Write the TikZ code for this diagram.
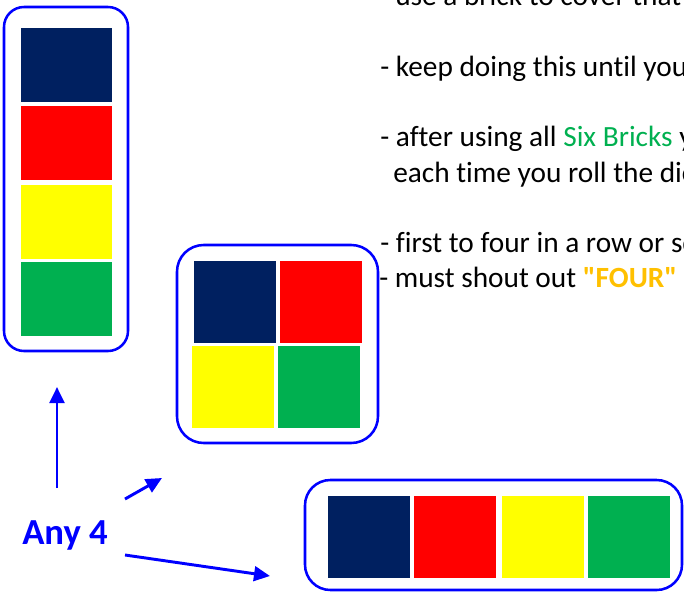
\documentclass[tikz,border=0pt]{standalone}
\usepackage{fontspec}
\setmainfont[Ligatures={NoCommon,TeXOff}]{Carlito}
\usetikzlibrary{arrows.meta}

\definecolor{bricknavy}{HTML}{002060}
\definecolor{brickred}{HTML}{FF0000}
\definecolor{brickyellow}{HTML}{FFFF00}
\definecolor{brickgreen}{HTML}{00B050}
\definecolor{boxblue}{HTML}{0000FF}
\definecolor{fourgold}{HTML}{FFC000}

\begin{document}
\begin{tikzpicture}[x=0.75pt,y=-0.75pt,
	holder/.style={draw=boxblue,line width=1.9pt},
	rule/.style={anchor=base west,inner sep=0pt,font=\fontsize{22}{26}\selectfont},
	pointer/.style={draw=boxblue,line width=2.2pt,-{Triangle[length=12pt,width=11pt]}}]
			\useasboundingbox (0,0) rectangle (684,592);
			\clip (0,0) rectangle (684,592);

			% column of four
			\draw[holder,rounded corners=15pt] (4,7) rectangle (128,351);
			\fill[bricknavy] (21,28) rectangle (112,102);
			\fill[brickred] (21,106) rectangle (112,180);
			\fill[brickyellow] (21,185) rectangle (112,259);
			\fill[brickgreen] (21,262) rectangle (112,336);

			% square of four
			\draw[holder,rounded corners=20pt] (177,245) rectangle (378,443);
			\fill[bricknavy] (194,261) rectangle (276,343);
			\fill[brickred] (280,261) rectangle (362,343);
			\fill[brickyellow] (192,346) rectangle (274,428);
			\fill[brickgreen] (278,346) rectangle (360,428);

			% row of four
			\draw[holder,rounded corners=19pt] (305,480) rectangle (682,590);
			\fill[bricknavy] (328,496) rectangle (410,578);
			\fill[brickred] (414,496) rectangle (496,578);
			\fill[brickyellow] (502,496) rectangle (584,578);
			\fill[brickgreen] (588,496) rectangle (670,578);

			% rules
			\node[rule] (r1) at (395,6) {use a brick to cover that};
			\node[rule] (r2) at (380,76) {- keep doing this until you};
			\node[rule] (r3) at (380,146) {- after using all \textcolor{brickgreen}{Six Bricks} you};
			\node[rule] (r4) at (393,182) {each time you roll the dice};
			\node[rule] (r5) at (380,252) {- first to four in a row or square};
			\node[rule] (r6) at (379,287) {- must shout out \textcolor{fourgold}{\bfseries "FOUR"}};

			\node[anchor=base west,inner sep=0pt,text=boxblue,font=\fontsize{27.5}{32}\selectfont\bfseries] (any) at (22,544) {Any 4};

			\coordinate (upfrom) at (57,488);
			\coordinate (upto) at (57,387);
			\coordinate (sqfrom) at (125,499);
			\coordinate (sqto) at (162,478);
			\coordinate (rowfrom) at (125,555);
			\coordinate (rowto) at (270,576);

			\draw[pointer] (upfrom) -- (upto);
			\draw[pointer] (sqfrom) -- (sqto);
			\draw[pointer] (rowfrom) -- (rowto);
		\end{tikzpicture}
\end{document}
